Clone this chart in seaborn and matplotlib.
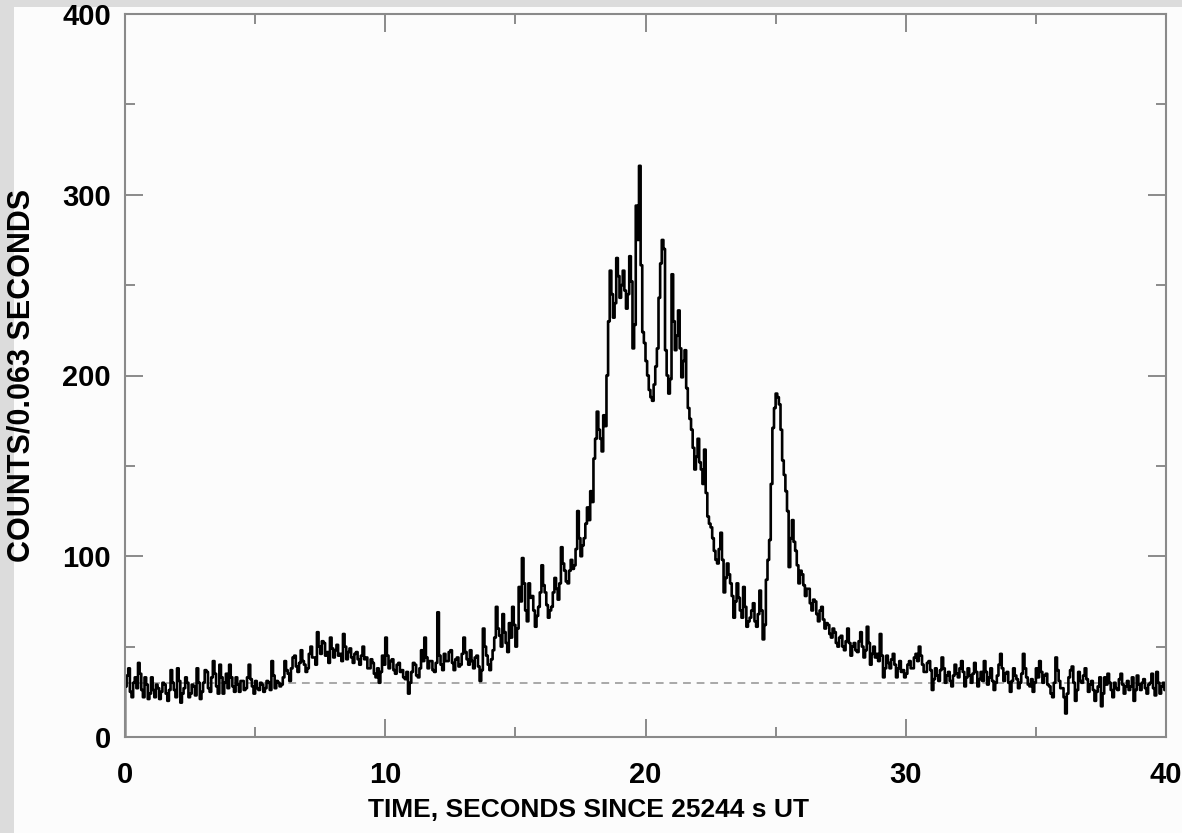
import numpy as np
import pandas as pd
import matplotlib
matplotlib.use("Agg")
import matplotlib.pyplot as plt
import seaborn as sns
from matplotlib.patches import Rectangle
from matplotlib.ticker import MultipleLocator

# ---- data (counts per bin, bins of 0.0625 s) ----
bin_width = 0.0625
counts = [
    28, 34, 38, 25, 22, 30, 33, 27, 41, 35, 26, 22, 33, 29, 21, 24,      # 0-1 s
    33, 26, 22, 29, 27, 21, 25, 30, 29, 24, 20, 26, 37, 30, 26, 22,      # 1-2
    38, 31, 19, 24, 27, 33, 30, 22, 24, 29, 28, 23, 38, 30, 21, 25,      # 2-3
    30, 37, 36, 27, 25, 33, 42, 35, 28, 24, 40, 33, 24, 30, 35, 27,      # 3-4
    40, 33, 28, 25, 33, 29, 25, 31, 31, 26, 27, 33, 40, 32, 28, 24,      # 4-5
    31, 27, 26, 30, 29, 25, 27, 31, 30, 26, 42, 34, 27, 31, 30, 28,      # 5-6
    29, 33, 42, 37, 35, 31, 38, 44, 45, 39, 36, 41, 48, 42, 40, 36,      # 6-7
    38, 46, 50, 44, 44, 40, 58, 50, 46, 53, 52, 45, 47, 41, 55, 49,      # 7-8
    44, 48, 51, 45, 46, 42, 57, 50, 43, 47, 49, 44, 41, 46, 47, 43,      # 8-9
    40, 45, 50, 43, 44, 38, 38, 43, 41, 35, 33, 38, 30, 36, 45, 40,      # 9-10
    55, 45, 38, 42, 43, 37, 35, 40, 41, 36, 37, 33, 32, 36, 24, 30,      # 10-11
    36, 41, 40, 34, 33, 38, 48, 42, 55, 44, 38, 42, 42, 37, 36, 41,      # 11-12
    69, 45, 40, 37, 46, 42, 42, 47, 48, 41, 37, 43, 44, 39, 40, 46,      # 12-13
    55, 47, 43, 40, 48, 42, 38, 44, 45, 39, 31, 37, 60, 50, 45, 40,      # 13-14
    37, 43, 48, 55, 72, 60, 56, 50, 68, 58, 52, 47, 63, 55, 72, 62,      # 14-15
    50, 60, 83, 75, 99, 85, 70, 64, 85, 77, 78, 70, 61, 67, 72, 80,      # 15-16
    95, 84, 80, 73, 66, 70, 72, 80, 88, 82, 76, 85, 105, 96, 92, 86,     # 16-17
    85, 92, 98, 93, 95, 104, 125, 110, 100, 106, 110, 118, 127, 120, 136, 130,      # 17-18
    154, 165, 180, 170, 165, 158, 178, 172, 200, 230, 258, 245, 232, 240, 265, 255,  # 18-19
    243, 250, 258, 247, 237, 245, 266, 252, 215, 228, 294, 275, 316, 261, 224, 218,  # 19-20
    208, 200, 192, 188, 186, 195, 205, 215, 243, 262, 275, 270, 214, 200, 190, 198,  # 20-21
    256, 230, 214, 222, 236, 215, 199, 208, 214, 193, 182, 176, 170, 160, 148, 155,  # 21-22
    165, 152, 148, 140, 159, 135, 122, 118, 116, 110, 103, 98, 96, 104, 113, 98,     # 22-23
    80, 88, 96, 90, 85, 78, 66, 75, 85, 77, 70, 66, 83, 72, 61, 64,                  # 23-24
    66, 70, 74, 64, 61, 68, 81, 70, 54, 62, 87, 98, 109, 140, 171, 182,              # 24-25
    190, 188, 184, 170, 153, 145, 136, 125, 94, 110, 120, 108, 103, 95, 85, 92,      # 25-26
    90, 84, 78, 82, 82, 74, 70, 76, 75, 68, 64, 70, 72, 65, 60, 63,      # 26-27
    62, 57, 55, 60, 58, 52, 50, 55, 56, 50, 48, 53, 60, 52, 45, 50,      # 27-28
    52, 48, 47, 53, 58, 50, 44, 48, 61, 52, 40, 46, 50, 44, 46, 42,      # 28-29
    57, 45, 33, 38, 45, 41, 38, 43, 46, 40, 33, 38, 42, 36, 37, 33,      # 29-30
    35, 40, 42, 38, 38, 44, 46, 42, 50, 45, 40, 36, 36, 41, 42, 37,      # 30-31
    26, 32, 38, 34, 31, 37, 44, 38, 30, 34, 36, 31, 28, 34, 40, 35,      # 31-32
    33, 38, 42, 36, 28, 33, 38, 34, 30, 35, 41, 36, 28, 32, 36, 31,      # 32-33
    42, 36, 29, 33, 38, 31, 26, 30, 34, 40, 46, 38, 31, 35, 36, 30,      # 33-34
    25, 31, 38, 34, 32, 27, 30, 35, 46, 38, 33, 29, 28, 32, 25, 30,      # 34-35
    38, 33, 42, 36, 30, 34, 35, 29, 28, 24, 22, 30, 44, 37, 31, 27,      # 35-36
    27, 22, 13, 24, 33, 37, 39, 30, 20, 26, 36, 31, 30, 34, 38, 32,      # 36-37
    25, 29, 31, 26, 20, 25, 28, 33, 17, 24, 33, 29, 35, 30, 26, 22,      # 37-38
    30, 27, 26, 32, 35, 29, 24, 28, 31, 26, 28, 33, 20, 26, 34, 29,      # 38-39
    26, 30, 32, 27, 24, 29, 30, 35, 27, 23, 36, 30, 24, 28, 30, 26,      # 39-40
]
background_level = 30
x_ticks = [0, 10, 20, 30, 40]
y_ticks = [0, 100, 200, 300, 400]
x_label = "TIME, SECONDS SINCE 25244 s UT"
y_label = "COUNTS/0.063 SECONDS"

# ---- build step data ----
edges = np.arange(len(counts) + 1) * bin_width
step_x = np.r_[edges[0], edges]
step_y = np.r_[0, counts, counts[-1]]
df = pd.DataFrame({"time": step_x, "counts": step_y})
df_bg = pd.DataFrame({"time": [0, 40], "counts": [background_level] * 2})

sns.set_theme(style="ticks")
plt.rcParams["font.family"] = ["Liberation Sans", "DejaVu Sans"]
plt.rcParams["font.weight"] = "bold"
plt.rcParams["text.color"] = "black"
plt.rcParams["xtick.labelcolor"] = "black"
plt.rcParams["ytick.labelcolor"] = "black"
plt.rcParams["axes.labelcolor"] = "black"

W, H = 1182, 833
fig = plt.figure(figsize=(W / 100, H / 100), dpi=100)
fig.patch.set_facecolor("#dcdcdc")
fig.add_artist(Rectangle((14 / W, 0), 1 - 14 / W, 1 - 7 / H,
                         transform=fig.transFigure, facecolor="#fcfcfc",
                         edgecolor="none", zorder=0))

ax = fig.add_axes([125 / W, 1 - 737 / H, (1166 - 125) / W, (737 - 14) / H])
ax.set_facecolor("#fcfcfc")

sns.lineplot(data=df_bg, x="time", y="counts", ax=ax, color="#a8a8a8",
             lw=1.4, linestyle=(0, (4, 3)), estimator=None)
sns.lineplot(data=df, x="time", y="counts", ax=ax, color="black", lw=1.9,
             drawstyle="steps-post", estimator=None, sort=False)

ax.set_xlim(0, 40)
ax.set_ylim(0, 400)
ax.set_xticks(x_ticks)
ax.set_yticks(y_ticks)
ax.xaxis.set_minor_locator(MultipleLocator(5))
ax.yaxis.set_minor_locator(MultipleLocator(50))
ax.tick_params(which="both", direction="in", top=True, right=True,
               color="#8a8a8a", width=1.4)
ax.tick_params(which="major", length=13)
ax.tick_params(which="minor", length=7)
ax.tick_params(axis="x", which="major", pad=17, labelsize=21)
ax.tick_params(axis="y", which="major", pad=10, labelsize=21)
for lab in ax.get_xticklabels() + ax.get_yticklabels():
    lab.set_fontweight("bold")
    lab.set_color("black")
for sp in ax.spines.values():
    sp.set_color("#8a8a8a")
    sp.set_linewidth(1.5)

ax.set_xlabel(x_label, fontsize=19, fontweight="bold", color="black")
ax.set_ylabel(y_label, fontsize=22, fontweight="bold", color="black")
ax.xaxis.set_label_coords((588 - 125) / 1041, (737 - 798) / 723)
ax.yaxis.set_label_coords((37 - 125) / 1041, 0.5)

fig.savefig("out.png", dpi=100, facecolor=fig.get_facecolor())
